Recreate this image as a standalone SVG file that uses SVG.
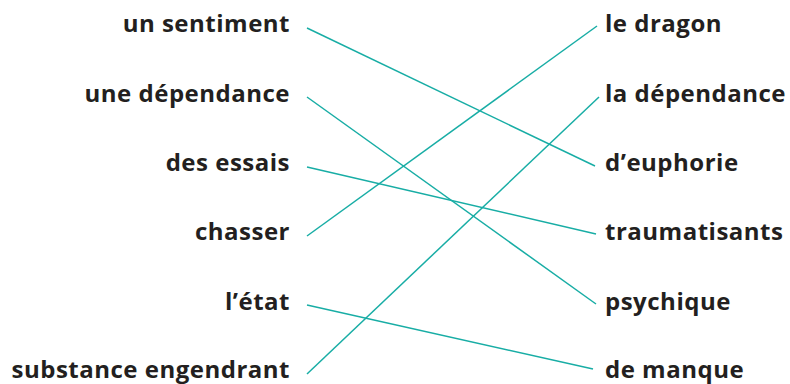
<svg xmlns="http://www.w3.org/2000/svg" width="790" height="384" viewBox="0 0 790 384">
<style>
text{font-family:"Open Sans","DejaVu Sans",sans-serif;font-weight:bold;font-size:24px;letter-spacing:0.5px;fill:#231f20}
.l{text-anchor:end}
.c line{stroke:#18ada5;stroke-width:1.5}
</style>
<rect width="790" height="384" fill="#fff"/>
<g class="c" id="connectors">
<line x1="307" y1="28" x2="595" y2="166"/>
<line x1="307" y1="97" x2="596" y2="304"/>
<line x1="307" y1="167" x2="596" y2="234"/>
<line x1="307" y1="236" x2="597" y2="26"/>
<line x1="307" y1="305" x2="593" y2="369"/>
<line x1="307" y1="374" x2="599" y2="97"/>
</g>
<g id="l1"><text class="l" x="290" y="32">un sentiment</text></g>
<g id="l2"><text class="l" x="290" y="102">une dépendance</text></g>
<g id="l3"><text class="l" x="290" y="171">des essais</text></g>
<g id="l4"><text class="l" x="290" y="240">chasser</text></g>
<g id="l5"><text class="l" x="290" y="310">l’état</text></g>
<g id="l6"><text class="l" x="290" y="378">substance engendrant</text></g>
<g id="r1"><text x="605" y="32">le dragon</text></g>
<g id="r2"><text x="605" y="102">la dépendance</text></g>
<g id="r3"><text x="605" y="171">d’euphorie</text></g>
<g id="r4"><text x="605" y="240">traumatisants</text></g>
<g id="r5"><text x="605" y="310">psychique</text></g>
<g id="r6"><text x="605" y="378">de manque</text></g>
</svg>
